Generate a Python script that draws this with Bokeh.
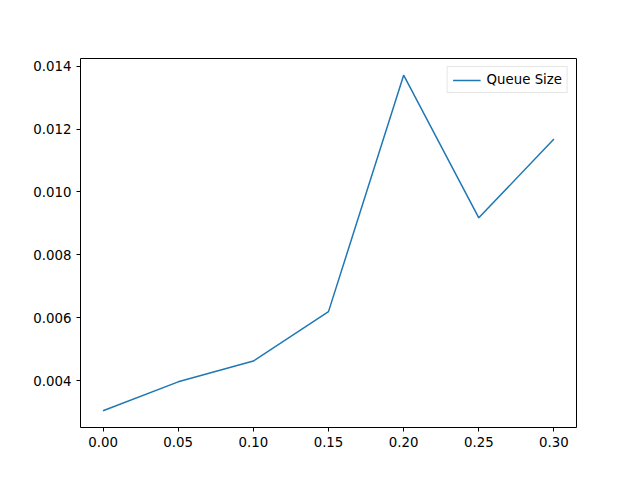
from bokeh.plotting import figure
from bokeh.models import FixedTicker, CustomJSTickFormatter, Range1d, Legend, LegendItem
from bokeh.embed import file_html
from bokeh.resources import INLINE

x = [0.0, 0.05, 0.10, 0.15, 0.20, 0.25, 0.30]
queue_size = [0.00305, 0.00397, 0.00463, 0.0062, 0.01371, 0.00918, 0.01168]
xticks = [0.0, 0.05, 0.1, 0.15, 0.2, 0.25, 0.3]
yticks = [0.004, 0.006, 0.008, 0.010, 0.012, 0.014]

p = figure(width=632, height=472, output_backend="svg", toolbar_location=None,
           x_range=Range1d(-0.015, 0.315), y_range=Range1d(0.00252, 0.01424),
           min_border_left=80, min_border_right=56, min_border_top=58, min_border_bottom=45)
r = p.line(x, queue_size, line_color="#1f77b4", line_width=1.5)
p.xgrid.visible = False
p.ygrid.visible = False
p.outline_line_color = "black"
p.xaxis.ticker = FixedTicker(ticks=xticks)
p.yaxis.ticker = FixedTicker(ticks=yticks)
p.xaxis.formatter = CustomJSTickFormatter(code="return tick.toFixed(2);")
p.yaxis.formatter = CustomJSTickFormatter(code="return tick.toFixed(3);")
for ax in (p.xaxis, p.yaxis):
    ax.minor_tick_line_color = None
    ax.major_label_text_font = "DejaVu Sans"
    ax.major_label_text_font_size = "10pt"
    ax.major_label_text_color = "black"
    ax.axis_line_color = None
    ax.major_tick_out = 4
    ax.major_tick_in = 0
legend = Legend(items=[LegendItem(label="Queue Size", renderers=[r])], location="top_right",
                label_text_font="DejaVu Sans", label_text_font_size="10pt",
                label_text_color="black",
                border_line_color="#cccccc", glyph_width=28, glyph_height=14,
                padding=5, spacing=2, margin=8, label_standoff=6)
p.add_layout(legend)
open("out.html", "w").write(file_html(p, INLINE))
